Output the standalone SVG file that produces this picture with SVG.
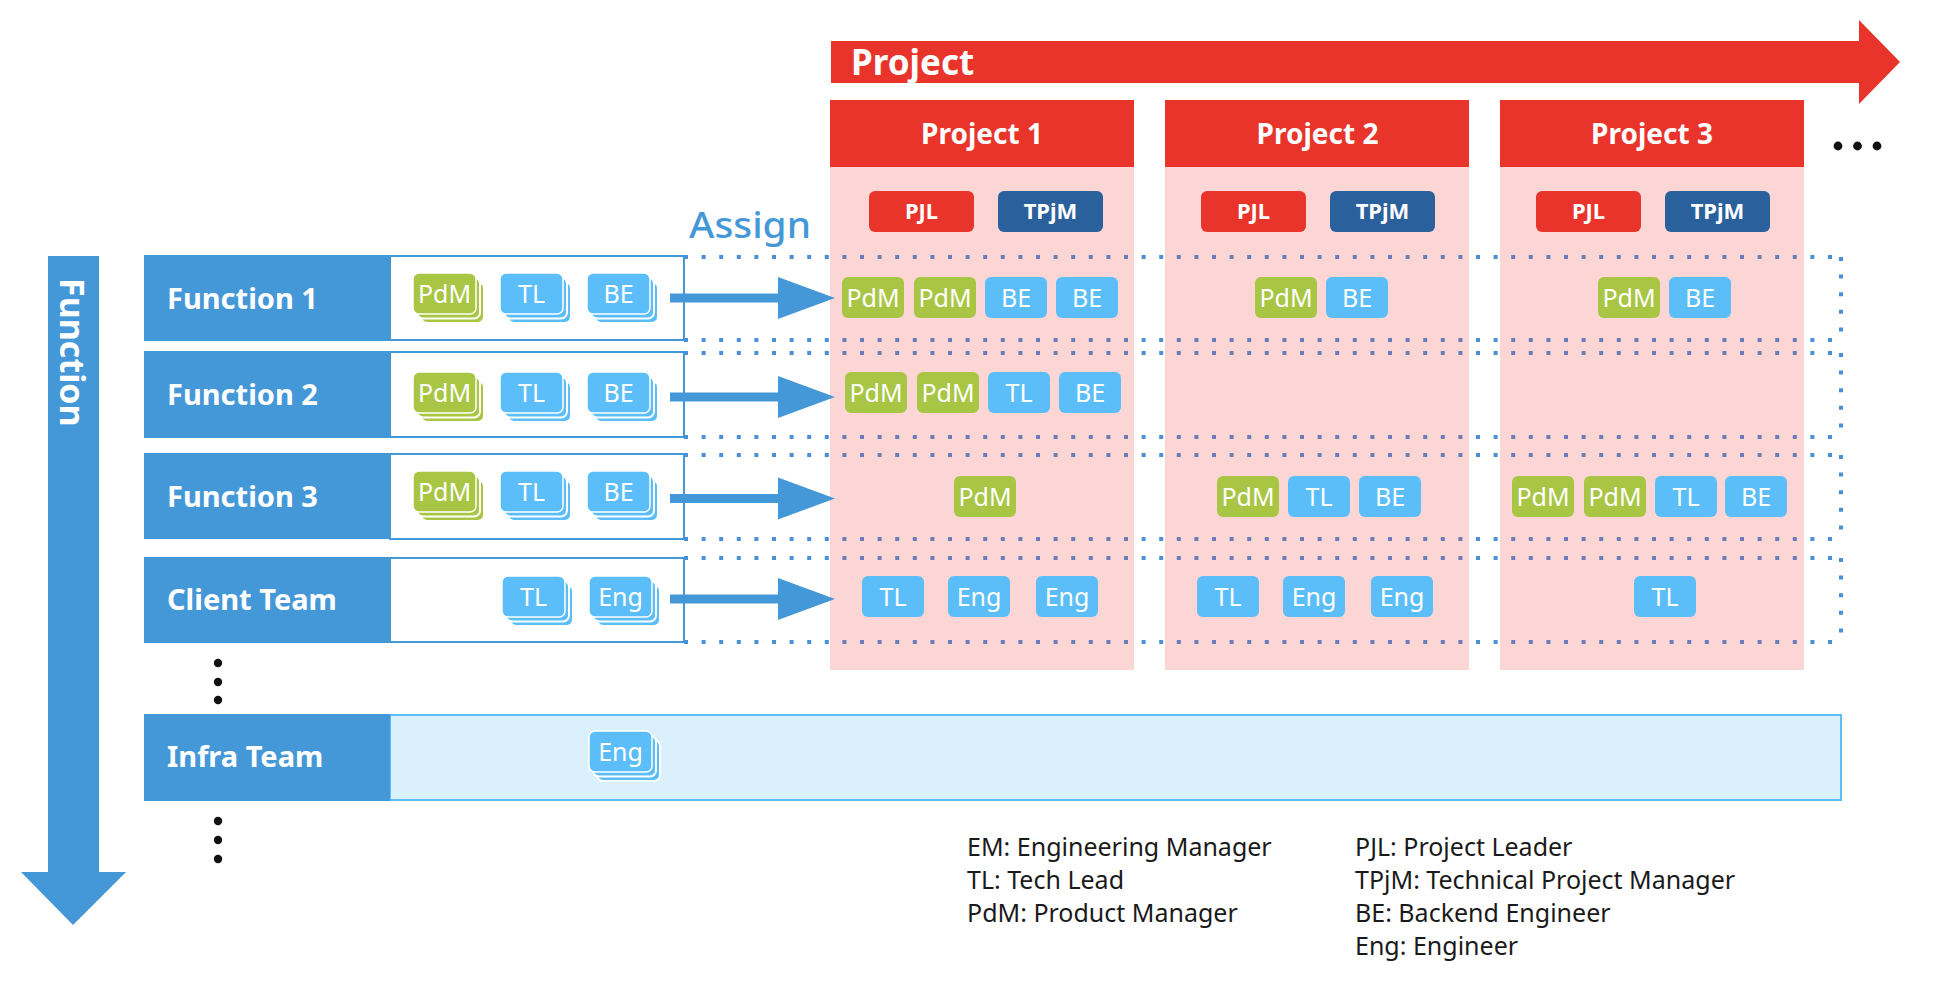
<svg xmlns="http://www.w3.org/2000/svg" xmlns:xlink="http://www.w3.org/1999/xlink" width="1950" height="1006" viewBox="0 0 1950 1006">
<style>
  text { font-family: "Noto Sans", "Open Sans", "Liberation Sans", sans-serif; }
  .blue { fill: #4598D8; }
  .red { fill: #E9342B; }
  .pink { fill: #E9342B; fill-opacity: 0.2; }
  .lblt { fill: #FFFFFF; font-size: 29px; font-weight: 700; }
  .hdr { fill: #FFFFFF; font-size: 28px; font-weight: 700; text-anchor: middle; }
  .role { fill: #FFFFFF; font-size: 22px; font-weight: 700; text-anchor: middle; }
  .ct { fill: #FFFFFF; font-size: 25px; font-weight: 400; text-anchor: middle; }
  .panel { fill: #FFFFFF; stroke: #4598D8; stroke-width: 2; }
  .dot { fill: none; stroke: #4A90D9; stroke-width: 4; stroke-dasharray: 4 13.6; }
  .legend { fill: #1A1A1A; font-size: 25px; font-weight: 400; }
</style>
<defs>
  <g id="stackG">
    <rect x="8" y="9" width="63" height="41" rx="6" fill="#A8C544" stroke="#FFFFFF" stroke-width="2"/>
    <rect x="4" y="4.5" width="63" height="41" rx="6" fill="#A8C544" stroke="#FFFFFF" stroke-width="2"/>
    <rect x="0" y="0" width="63" height="41" rx="6" fill="#A8C544" stroke="#FFFFFF" stroke-width="1.5"/>
  </g>
  <g id="stackB">
    <rect x="8" y="9" width="63" height="41" rx="6" fill="#5BBEF9" stroke="#FFFFFF" stroke-width="2"/>
    <rect x="4" y="4.5" width="63" height="41" rx="6" fill="#5BBEF9" stroke="#FFFFFF" stroke-width="2"/>
    <rect x="0" y="0" width="63" height="41" rx="6" fill="#5BBEF9" stroke="#FFFFFF" stroke-width="1.5"/>
  </g>
  <rect id="chipG" width="62" height="41" rx="6" fill="#A8C544"/>
  <rect id="chipB" width="62" height="41" rx="6" fill="#5BBEF9"/>
  <polygon id="assignArrow" points="0,-4.5 108,-4.5 108,-21 165,0 108,21 108,4.5 0,4.5" fill="#4598D8"/>
</defs>

<!-- Axis arrows -->
<g id="project-axis">
  <polygon class="red" points="831,41 1859,41 1859,20 1900,62 1859,104 1859,83 831,83"/>
  <text x="851" y="75" fill="#FFFFFF" font-size="35" font-weight="700">Project</text>
  <circle cx="1838" cy="146" r="4.4" fill="#111"/>
  <circle cx="1857.5" cy="146" r="4.4" fill="#111"/>
  <circle cx="1877" cy="146" r="4.4" fill="#111"/>
</g>
<g id="function-axis">
  <polygon class="blue" points="48,256 99,256 99,872 126,872 73,925 21,872 48,872"/>
  <text transform="translate(60,278) rotate(90)" fill="#FFFFFF" font-size="34" font-weight="700">Function</text>
</g>

<!-- Dotted assignment rows -->
<g id="dotted-rows">
  <path class="dot" d="M684,257 H1841 M684,340 H1841 M1841,257 V340"/>
  <path class="dot" d="M684,353 H1841 M684,437 H1841 M1841,353 V437"/>
  <path class="dot" d="M684,455 H1841 M684,539 H1841 M1841,455 V539"/>
  <path class="dot" d="M684,558 H1841 M684,642 H1841 M1841,558 V642"/>
</g>

<!-- Project columns -->
<g id="project1">
  <rect class="pink" x="830" y="167" width="304" height="503"/>
  <rect class="red" x="830" y="100" width="304" height="67"/>
  <text class="hdr" x="982" y="143.5">Project 1</text>
  <rect class="red" x="869" y="191" width="105" height="41" rx="6"/>
  <text class="role" x="921.5" y="219">PJL</text>
  <rect x="998" y="191" width="105" height="41" rx="6" fill="#2A609C"/>
  <text class="role" x="1050.5" y="219">TPjM</text>
</g>
<g id="project2">
  <rect class="pink" x="1165" y="167" width="304" height="503"/>
  <rect class="red" x="1165" y="100" width="304" height="67"/>
  <text class="hdr" x="1317.5" y="143.5">Project 2</text>
  <rect class="red" x="1201" y="191" width="105" height="41" rx="6"/>
  <text class="role" x="1253.5" y="219">PJL</text>
  <rect x="1330" y="191" width="105" height="41" rx="6" fill="#2A609C"/>
  <text class="role" x="1382.5" y="219">TPjM</text>
</g>
<g id="project3">
  <rect class="pink" x="1500" y="167" width="304" height="503"/>
  <rect class="red" x="1500" y="100" width="304" height="67"/>
  <text class="hdr" x="1652" y="143.5">Project 3</text>
  <rect class="red" x="1536" y="191" width="105" height="41" rx="6"/>
  <text class="role" x="1588.5" y="219">PJL</text>
  <rect x="1665" y="191" width="105" height="41" rx="6" fill="#2A609C"/>
  <text class="role" x="1717.5" y="219">TPjM</text>
</g>

<!-- Assigned members in projects -->
<g id="assigned-members">
  <use href="#chipG" x="842" y="277"/><text class="ct" x="873" y="306.5">PdM</text>
  <use href="#chipG" x="914" y="277"/><text class="ct" x="945" y="306.5">PdM</text>
  <use href="#chipB" x="985" y="277"/><text class="ct" x="1016" y="306.5">BE</text>
  <use href="#chipB" x="1056" y="277"/><text class="ct" x="1087" y="306.5">BE</text>
  <use href="#chipG" x="1255" y="277"/><text class="ct" x="1286" y="306.5">PdM</text>
  <use href="#chipB" x="1326" y="277"/><text class="ct" x="1357" y="306.5">BE</text>
  <use href="#chipG" x="1598" y="277"/><text class="ct" x="1629" y="306.5">PdM</text>
  <use href="#chipB" x="1669" y="277"/><text class="ct" x="1700" y="306.5">BE</text>
  <use href="#chipG" x="845" y="372"/><text class="ct" x="876" y="401.5">PdM</text>
  <use href="#chipG" x="917" y="372"/><text class="ct" x="948" y="401.5">PdM</text>
  <use href="#chipB" x="988" y="372"/><text class="ct" x="1019" y="401.5">TL</text>
  <use href="#chipB" x="1059" y="372"/><text class="ct" x="1090" y="401.5">BE</text>
  <use href="#chipG" x="954" y="476"/><text class="ct" x="985" y="505.5">PdM</text>
  <use href="#chipG" x="1217" y="476"/><text class="ct" x="1248" y="505.5">PdM</text>
  <use href="#chipB" x="1288" y="476"/><text class="ct" x="1319" y="505.5">TL</text>
  <use href="#chipB" x="1359" y="476"/><text class="ct" x="1390" y="505.5">BE</text>
  <use href="#chipG" x="1512" y="476"/><text class="ct" x="1543" y="505.5">PdM</text>
  <use href="#chipG" x="1584" y="476"/><text class="ct" x="1615" y="505.5">PdM</text>
  <use href="#chipB" x="1655" y="476"/><text class="ct" x="1686" y="505.5">TL</text>
  <use href="#chipB" x="1725" y="476"/><text class="ct" x="1756" y="505.5">BE</text>
  <use href="#chipB" x="862" y="576"/><text class="ct" x="893" y="605.5">TL</text>
  <use href="#chipB" x="948" y="576"/><text class="ct" x="979" y="605.5">Eng</text>
  <use href="#chipB" x="1036" y="576"/><text class="ct" x="1067" y="605.5">Eng</text>
  <use href="#chipB" x="1197" y="576"/><text class="ct" x="1228" y="605.5">TL</text>
  <use href="#chipB" x="1283" y="576"/><text class="ct" x="1314" y="605.5">Eng</text>
  <use href="#chipB" x="1371" y="576"/><text class="ct" x="1402" y="605.5">Eng</text>
  <use href="#chipB" x="1634" y="576"/><text class="ct" x="1665" y="605.5">TL</text>
</g>

<!-- Assign label -->
<text x="689" y="238" fill="#4598D8" font-size="37" font-weight="500" textLength="122" lengthAdjust="spacingAndGlyphs">Assign</text>

<!-- Function rows -->
<g id="function1">
  <rect class="panel" x="390" y="256" width="294" height="84"/>
  <rect class="blue" x="144" y="255" width="246" height="86"/>
  <text class="lblt" x="167" y="309">Function 1</text>
  <use href="#stackG" x="413" y="273"/><text class="ct" x="444.5" y="302.5">PdM</text>
  <use href="#stackB" x="500" y="273"/><text class="ct" x="531.5" y="302.5">TL</text>
  <use href="#stackB" x="587" y="273"/><text class="ct" x="618.5" y="302.5">BE</text>
</g>
<g id="function2">
  <rect class="panel" x="390" y="352" width="294" height="85"/>
  <rect class="blue" x="144" y="351" width="246" height="87"/>
  <text class="lblt" x="167" y="405">Function 2</text>
  <use href="#stackG" x="413" y="372"/><text class="ct" x="444.5" y="401.5">PdM</text>
  <use href="#stackB" x="500" y="372"/><text class="ct" x="531.5" y="401.5">TL</text>
  <use href="#stackB" x="587" y="372"/><text class="ct" x="618.5" y="401.5">BE</text>
</g>
<g id="function3">
  <rect class="panel" x="390" y="454" width="294" height="85"/>
  <rect class="blue" x="144" y="453" width="246" height="86"/>
  <text class="lblt" x="167" y="507">Function 3</text>
  <use href="#stackG" x="413" y="471"/><text class="ct" x="444.5" y="500.5">PdM</text>
  <use href="#stackB" x="500" y="471"/><text class="ct" x="531.5" y="500.5">TL</text>
  <use href="#stackB" x="587" y="471"/><text class="ct" x="618.5" y="500.5">BE</text>
</g>
<g id="client-team">
  <rect class="panel" x="390" y="558" width="294" height="84"/>
  <rect class="blue" x="144" y="557" width="246" height="86"/>
  <text class="lblt" x="167" y="610">Client Team</text>
  <use href="#stackB" x="502" y="576"/><text class="ct" x="533.5" y="605.5">TL</text>
  <use href="#stackB" x="589" y="576"/><text class="ct" x="620.5" y="605.5">Eng</text>
</g>
<g id="infra-team">
  <rect x="390" y="715" width="1451" height="85" fill="#DBF0FD" stroke="#5BBEF9" stroke-width="2"/>
  <rect class="blue" x="144" y="714" width="246" height="87"/>
  <text class="lblt" x="167" y="767">Infra Team</text>
  <use href="#stackB" x="589" y="731"/><text class="ct" x="620.5" y="760.5">Eng</text>
</g>

<!-- Vertical ellipses -->
<g id="ellipsis">
  <circle cx="218" cy="663" r="4.2" fill="#111"/>
  <circle cx="218" cy="682" r="4.2" fill="#111"/>
  <circle cx="218" cy="700" r="4.2" fill="#111"/>
  <circle cx="218" cy="821" r="4.2" fill="#111"/>
  <circle cx="218" cy="840" r="4.2" fill="#111"/>
  <circle cx="218" cy="859" r="4.2" fill="#111"/>
</g>

<!-- Connectors -->
<g id="connectors">
  <use href="#assignArrow" x="670" y="298"/>
  <use href="#assignArrow" x="670" y="397"/>
  <use href="#assignArrow" x="670" y="498.5"/>
  <use href="#assignArrow" x="670" y="599"/>
</g>

<!-- Legend -->
<g id="legend">
  <text class="legend" x="967" y="856">EM: Engineering Manager</text>
  <text class="legend" x="967" y="889">TL: Tech Lead</text>
  <text class="legend" x="967" y="922">PdM: Product Manager</text>
  <text class="legend" x="1355" y="856">PJL: Project Leader</text>
  <text class="legend" x="1355" y="889">TPjM: Technical Project Manager</text>
  <text class="legend" x="1355" y="922">BE: Backend Engineer</text>
  <text class="legend" x="1355" y="955">Eng: Engineer</text>
</g>
</svg>
